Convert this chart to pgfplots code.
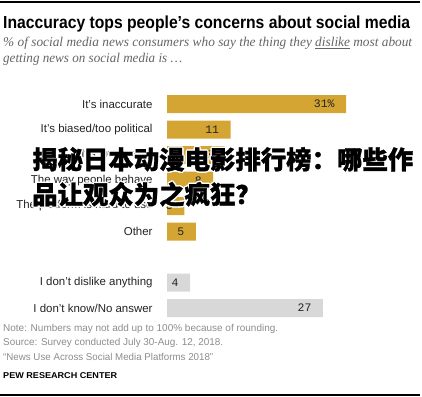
\documentclass[border=0pt]{standalone}
\usepackage{pgfplots}
\pgfplotsset{compat=1.18}
\usepackage{graphicx}
\usepackage{fontspec}
\setmainfont{Liberation Sans}
\newfontfamily\serifit{Liberation Serif}
\newfontfamily\monof{Liberation Mono}
\newfontfamily\cjk[BoldFeatures={FakeBold=1.2}]{Noto Sans CJK SC}
\definecolor{gold}{RGB}{213,165,52}
\definecolor{lgray}{RGB}{216,216,216}
\definecolor{subgray}{RGB}{100,100,100}
\definecolor{notegray}{RGB}{140,140,140}
\definecolor{txt}{RGB}{35,35,35}
\newcommand\halo[3]{%
  \foreach \dx/\dy in {-1.4/0,1.4/0,0/-1.4,0/1.4,-1/-1,1/1,-1/1,1/-1}{%
    \node[anchor=base west, inner sep=0pt, text=white] at ([xshift=\dx bp, yshift=\dy bp]#1bp,#2bp) {#3};}
  \node[anchor=base west, inner sep=0pt, text=black] at (#1bp,#2bp) {#3};}
\begin{document}
\begin{tikzpicture}
\path[use as bounding box] (0,0) rectangle (422bp,397bp);
\draw[line width=1.3bp, black] (0,395bp) -- (420bp,395bp);
\draw[line width=1.3bp, black] (0,2bp) -- (420bp,2bp);
\node[anchor=base west, inner sep=0pt] at (3bp,368bp)
  {\resizebox{407bp}{\height}{\fontsize{17.5}{20}\selectfont\bfseries Inaccuracy tops people’s concerns about social media}};
\node[anchor=base west, inner sep=0pt, text=subgray] at (3bp,350bp)
  {\resizebox{409bp}{\height}{\serifit\itshape\fontsize{13.5}{16}\selectfont \% of social media news consumers who say the thing they \underline{dislike} most about}};
\node[anchor=base west, inner sep=0pt, text=subgray] at (3bp,334bp)
  {\resizebox{179bp}{\height}{\serifit\itshape\fontsize{13.5}{16}\selectfont getting news on social media is \dots}};
\begin{axis}[
  at={(167bp,76.25bp)}, anchor=south west,
  width=231bp, height=229.5bp, scale only axis,
  xmin=0, xmax=40, ymin=-0.5, ymax=8.5, y dir=reverse,
  axis line style={draw=none}, tick style={draw=none},
  xtick=\empty, ytick={0,1,2,3,4,5,7,8},
  yticklabels={It's inaccurate, It's biased/too political, It's low quality, The way people behave, The platform is hard to use, Other, I don't dislike anything, I don't know/No answer},
  yticklabel style={font=\fontsize{11.5}{13}\selectfont, text=txt, inner sep=0pt, anchor=east, xshift=-10bp},
  clip=false,
  xbar, bar width=18bp, bar shift=0pt,
  nodes near coords, point meta=explicit symbolic,
  nodes near coords style={anchor=east, xshift=-8bp, font=\monof\fontsize{11.5}{13}\selectfont, text=txt},
]
\addplot[fill=gold, draw=none] coordinates {(31,0) [31\%] (11,1) [11] (10,2) [10] (8,3) [8] (3,4) [3] (5,5) [5]};
\addplot[fill=lgray, draw=none] coordinates {(4,7) [4] (27,8) [27]};
\end{axis}
\node[anchor=base west, inner sep=0pt, text=notegray] at (3bp,65bp)
  {\resizebox{275bp}{\height}{\fontsize{10}{12}\selectfont Note: Numbers may not add up to 100\% because of rounding.}};
\node[anchor=base west, inner sep=0pt, text=notegray] at (3bp,51bp)
  {\resizebox{220bp}{\height}{\fontsize{10}{12}\selectfont Source: Survey conducted July 30-Aug. 12, 2018.}};
\node[anchor=base west, inner sep=0pt, text=notegray] at (3bp,37bp)
  {\resizebox{210bp}{\height}{\fontsize{10}{12}\selectfont “News Use Across Social Media Platforms 2018”}};
\node[anchor=base west, inner sep=0pt, text=black] at (3bp,19bp)
  {\resizebox{114bp}{\height}{\fontsize{8.5}{10}\selectfont\bfseries PEW RESEARCH CENTER}};
\halo{32}{228}{\cjk\bfseries\fontsize{25.5}{28}\selectfont 揭秘日本动漫电影排行榜：哪些作}
\halo{32}{193}{\cjk\bfseries\fontsize{25.5}{28}\selectfont 品让观众为之疯狂？}
\end{tikzpicture}
\end{document}
